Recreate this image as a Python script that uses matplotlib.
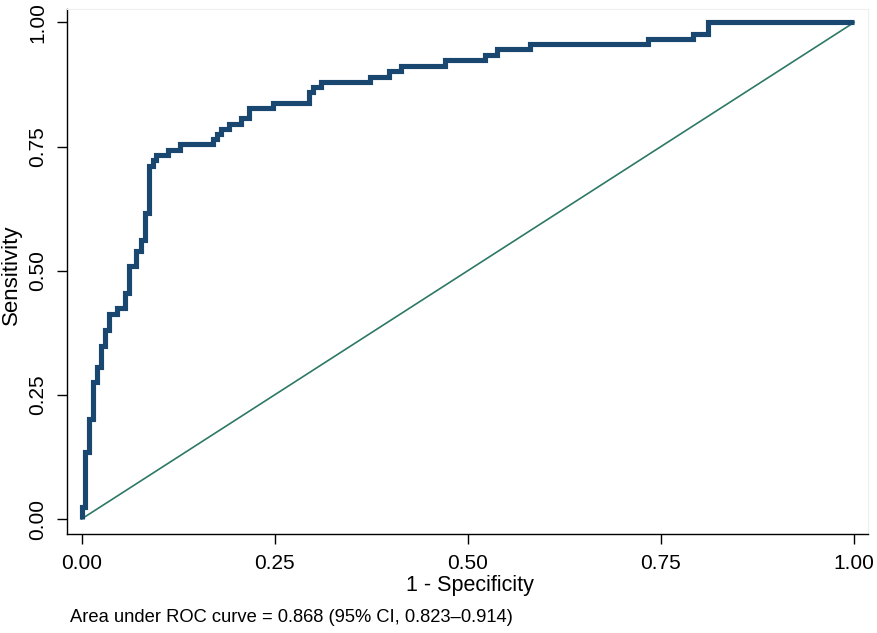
import matplotlib
matplotlib.use("Agg")
import matplotlib.pyplot as plt
import numpy as np

# ROC curve vertices (top of each vertical step)
fpr = [0.0, 0.0, 0.005, 0.010, 0.015, 0.020, 0.025, 0.031, 0.036, 0.046, 0.056,
       0.061, 0.071, 0.077, 0.082, 0.087, 0.092, 0.097, 0.112, 0.128, 0.170,
       0.175, 0.181, 0.191, 0.206, 0.217, 0.248, 0.295, 0.299, 0.310, 0.373,
       0.398, 0.413, 0.471, 0.522, 0.538, 0.581, 0.733, 0.791, 0.811, 1.0]
tpr = [0.0, 0.024, 0.134, 0.201, 0.275, 0.306, 0.348, 0.381, 0.413, 0.425, 0.456,
       0.510, 0.540, 0.562, 0.616, 0.710, 0.722, 0.733, 0.743, 0.755, 0.765,
       0.775, 0.785, 0.796, 0.807, 0.828, 0.838, 0.859, 0.869, 0.880, 0.891,
       0.902, 0.913, 0.924, 0.935, 0.946, 0.956, 0.966, 0.976, 1.0, 1.0]
diag = [0.0, 1.0]
ticks = [0.0, 0.25, 0.5, 0.75, 1.0]
tick_labels = ["0.00", "0.25", "0.50", "0.75", "1.00"]
xlabel = "1 - Specificity"
ylabel = "Sensitivity"
note = "Area under ROC curve = 0.868 (95% CI, 0.823\u20130.914)"

plt.rcParams['font.family'] = ['Liberation Sans', 'DejaVu Sans']

W, H = 878, 633
fig = plt.figure(figsize=(W / 100, H / 100), dpi=100)
ax = fig.add_axes([67/W, 1 - 534/H, (868-67)/W, (534-9)/H])

ax.plot(diag, diag, color="#2e7866", lw=1.2, zorder=2)
ax.plot(fpr, tpr, drawstyle="steps-post", color="#1a476f", lw=3.7,
        solid_joinstyle="miter", solid_capstyle="butt", zorder=3)

ax.set_xlim(-0.0188, 1.018)
ax.set_ylim(-0.0302, 1.027)
ax.set_xticks(ticks)
ax.set_xticklabels(tick_labels)
ax.set_yticks(ticks)
ax.set_yticklabels(tick_labels, rotation=90, va="center")
ax.tick_params(axis="both", length=7, width=1.0, labelsize=15, color="black")
ax.tick_params(axis="x", pad=7.5)
ax.tick_params(axis="y", pad=7)

for s in ["top", "right"]:
    ax.spines[s].set_color("#eeeeee")
    ax.spines[s].set_linewidth(0.8)
for s in ["left", "bottom"]:
    ax.spines[s].set_color("black")
    ax.spines[s].set_linewidth(1.0)

ax.set_xlabel(xlabel, fontsize=15.5)
ax.xaxis.set_label_coords((470 - 67) / 801, (534 - 575) / 525)
ax.set_ylabel(ylabel, fontsize=16)
ax.yaxis.set_label_coords((22 - 67) / 801, (534 - 275) / 525)

fig.text(70/W, 1 - 617/H, note, fontsize=13.2, ha="left", va="center")

fig.savefig("out.png", dpi=100)
